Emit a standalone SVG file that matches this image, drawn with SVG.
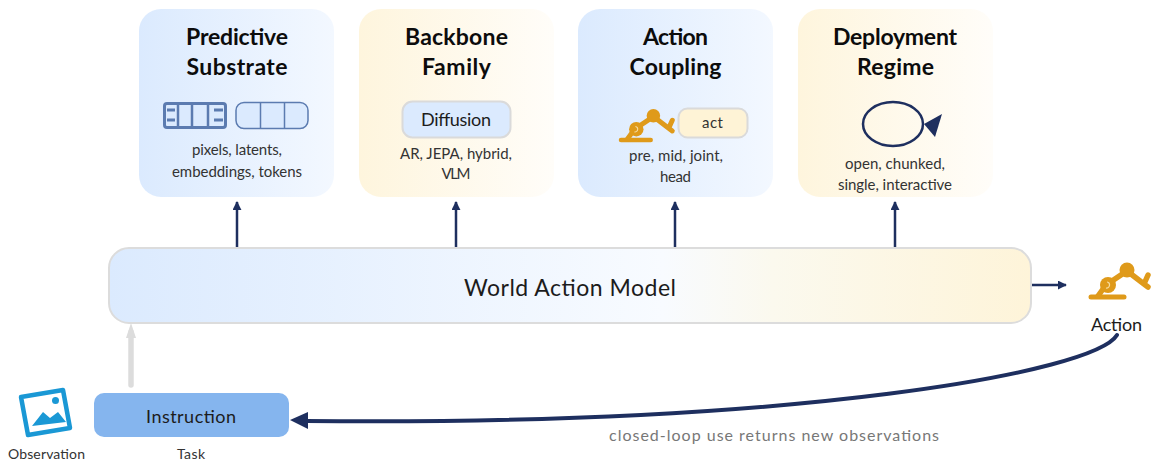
<svg xmlns="http://www.w3.org/2000/svg" xmlns:xlink="http://www.w3.org/1999/xlink" width="1151" height="460" viewBox="0 0 1151 460">
<style>
text{font-family:"Lato","Noto Sans",sans-serif;text-anchor:middle;fill:#1c1c1c}
.t{font-size:23px;font-weight:700;fill:#0c0c0c}
.s{font-size:15px;fill:#333}
.m{font-size:18px}
.card{stroke:none}
.nv{fill:none;stroke:#1e2f5f;stroke-width:2.5}
.or{stroke:#df9a1a;fill:none;stroke-linecap:round}
</style>
<defs>
<linearGradient id="b"><stop offset="0" stop-color="#dbeafe"/><stop offset="1" stop-color="#f3f8ff"/></linearGradient>
<linearGradient id="y"><stop offset="0" stop-color="#fef5dd"/><stop offset="1" stop-color="#fffdf9"/></linearGradient>
<linearGradient id="w"><stop offset="0" stop-color="#dbeafe"/><stop offset=".6" stop-color="#f8fbff"/><stop offset=".72" stop-color="#fbf9ee"/><stop offset="1" stop-color="#fef4d9"/></linearGradient>
<marker id="a" viewBox="0 0 10 10" refX="9" refY="5" markerWidth="9" markerHeight="9" markerUnits="userSpaceOnUse" orient="auto"><path d="M0 0L10 5L0 10Z" fill="#1e2f5f"/></marker>
<g id="robot">
<path class="or" stroke-width="5" d="M1091 297H1124"/>
<path class="or" stroke-width="5.500" d="M1098 296L1106 285L1127 271L1144 284M1144 284L1148 275M1144 284L1148 287"/>
<circle cx="1108" cy="285" r="8" fill="#df9a1a"/>
<path d="M1107 282A3 3 0 1 1 1106 288" fill="none" stroke="#f7dca0" stroke-width="1.200"/>
<circle cx="1127" cy="270" r="7.500" fill="#df9a1a"/>
</g>
</defs>
<g id="connectors">
<path class="nv" marker-end="url(#a)" d="M237 248V202"/>
<path class="nv" marker-end="url(#a)" d="M456 248V202"/>
<path class="nv" marker-end="url(#a)" d="M675 248V202"/>
<path class="nv" marker-end="url(#a)" d="M895 248V202"/>
<path class="nv" marker-end="url(#a)" d="M1031 285H1066"/>
<path fill="none" stroke="#dcdcdc" stroke-width="5.500" stroke-linecap="round" d="M131 385V332"/>
<path fill="#dcdcdc" d="M131 323L136 338H126Z"/>
<path fill="none" stroke="#1e2f5f" stroke-width="4" stroke-linecap="round" d="M1117 335C1095 372 800 426 306 421"/>
<path fill="#1e2f5f" d="M290 420L308 412V429Z"/>
</g>
<g id="predictive">
<rect class="card" x="139" y="9" width="195" height="188" rx="22" fill="url(#b)"/>
<text class="t" x="237" y="45" textLength="102">Predictive</text>
<text class="t" x="237" y="75" textLength="101">Substrate</text>
<rect x="164.500" y="103.500" width="61" height="24" rx="2.500" fill="#dbeafe" stroke="#5b7bb0" stroke-width="3"/>
<path d="M178 103V128M192 103V128M208 103V128" stroke="#5b7bb0" stroke-width="2.500" fill="none"/>
<path d="M167 110H175M167 120H175M214 110H223M214 120H223" stroke="#5b7bb0" stroke-width="3" fill="none"/>
<rect x="236" y="102.500" width="72" height="26" rx="8" fill="#dbeafe" stroke="#5b7bb0" stroke-width="1.500"/>
<path d="M260.500 102V129M284.500 102V129" stroke="#5b7bb0" stroke-width="1.500"/>
<text class="s" x="237" y="155" textLength="90">pixels, latents,</text>
<text class="s" x="237" y="177" textLength="130">embeddings, tokens</text>
</g>
<g id="backbone">
<rect class="card" x="359" y="9" width="195" height="188" rx="22" fill="url(#y)"/>
<text class="t" x="456.500" y="45" textLength="103">Backbone</text>
<text class="t" x="456.500" y="75" textLength="69">Family</text>
<rect x="402.500" y="101.500" width="108" height="36" rx="10" fill="#dbeafe" stroke="#dadada" stroke-width="2"/>
<text class="m" x="456" y="126" textLength="70">Diffusion</text>
<text class="s" x="456" y="159" textLength="112">AR, JEPA, hybrid,</text>
<text class="s" x="456" y="179" textLength="29">VLM</text>
</g>
<g id="action-coupling">
<rect class="card" x="578" y="9" width="195" height="188" rx="22" fill="url(#b)"/>
<text class="t" x="675.500" y="45" textLength="65">Action</text>
<text class="t" x="675.500" y="75" textLength="92">Coupling</text>
<use xlink:href="#robot" href="#robot" transform="translate(621 140) scale(.9) translate(-1091 -297)"/>
<rect x="678.500" y="108.500" width="69" height="29" rx="9" fill="#fef3d6" stroke="#dadada" stroke-width="2"/>
<text class="s" x="712.500" y="128" textLength="21">act</text>
<text class="s" x="676" y="161" textLength="94">pre, mid, joint,</text>
<text class="s" x="675.500" y="182" textLength="31">head</text>
</g>
<g id="deployment">
<rect class="card" x="798" y="9" width="195" height="188" rx="22" fill="url(#y)"/>
<text class="t" x="895" y="45" textLength="124">Deployment</text>
<text class="t" x="895.500" y="75" textLength="77">Regime</text>
<ellipse cx="893" cy="124" rx="30" ry="22" fill="none" stroke="#1e2f5f" stroke-width="2.500"/>
<path d="M924 124L942 114L935 137Z" fill="#1e2f5f"/>
<text class="s" x="895" y="169" textLength="100">open, chunked,</text>
<text class="s" x="895" y="190" textLength="114">single, interactive</text>
</g>
<g id="wam">
<rect x="109" y="248" width="922" height="75" rx="20" fill="url(#w)" stroke="#dcdcdc" stroke-width="2"/>
<text x="570" y="296" font-size="23" textLength="212">World Action Model</text>
</g>
<g id="action-output">
<use xlink:href="#robot" href="#robot"/>
<text class="m" x="1116.500" y="331" textLength="51">Action</text>
</g>
<g id="observation">
<path d="M21 397L63 390L70 428L28 435Z" fill="#fff" stroke="#1a98d5" stroke-width="4.500" stroke-linejoin="round"/>
<circle cx="55.500" cy="400.500" r="3.500" fill="#1a98d5"/>
<path d="M32 426L43 412L50 418L58 412L66 422Z" fill="#1a98d5"/>
<text class="s" x="46.500" y="459" font-size="14" style="font-size:14px" textLength="77">Observation</text>
</g>
<g id="instruction">
<rect x="94" y="393" width="195" height="44" rx="10" fill="#85b5ee"/>
<text class="m" x="191" y="423" textLength="90">Instruction</text>
<text class="s" x="191" y="459" font-size="14" style="font-size:14px" textLength="28">Task</text>
</g>
<text x="774" y="441" font-size="16" style="fill:#777" textLength="330">closed-loop use returns new observations</text>
</svg>
